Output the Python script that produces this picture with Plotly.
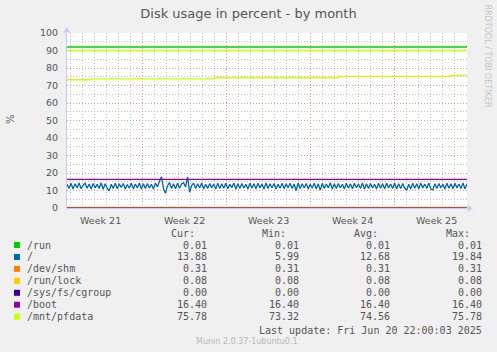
import plotly.graph_objects as go
import pandas as pd

# ---------------- data ----------------
series_names = ["/run", "/", "/dev/shm", "/run/lock", "/sys/fs/cgroup", "/boot", "/mnt/pfdata"]
series_colors = ["#00CC00", "#0066B3", "#FF8000", "#FFCC00", "#330099", "#990099", "#CCFF00"]
cur_vals = [0.01, 13.88, 0.31, 0.08, 0.00, 16.40, 75.78]
min_vals = [0.01, 5.99, 0.31, 0.08, 0.00, 16.40, 73.32]
avg_vals = [0.01, 12.68, 0.31, 0.08, 0.00, 16.40, 74.56]
max_vals = [0.01, 19.84, 0.31, 0.08, 0.00, 16.40, 75.78]

# "/" usage over the month (one sample every ~4h)
root_vals = [
    13.6, 11.2, 14.1, 10.9, 13.8, 11.6, 14.3, 11.0, 12.9, 14.2, 11.3, 13.7, 10.8, 14.0, 11.5, 13.5, 11.1, 14.4, 10.7, 13.9,
    11.4, 9.8, 13.6, 11.2, 14.2, 11.0, 13.8, 11.7, 14.0, 10.9, 13.4, 11.3, 14.1, 11.0, 13.7, 11.5, 14.3, 10.8, 13.9, 11.2,
    14.0, 11.4, 13.6, 10.9, 14.2, 12.1, 15.3, 17.9, 11.0, 8.4, 12.6, 14.6, 11.2, 13.8, 11.0, 14.1, 11.3, 13.7, 14.5, 12.0,
    17.8, 9.0, 12.8, 14.2, 11.1, 13.9, 11.4, 14.3, 10.9, 13.6, 11.2, 14.0, 11.5, 13.7, 10.8, 14.2, 11.1, 13.8, 11.3, 14.1,
    11.0, 13.5, 11.6, 14.3, 10.7, 13.9, 11.2, 14.0, 11.4, 13.6, 10.9, 14.2, 11.3, 13.8, 11.0, 14.1, 11.5, 13.7, 10.8, 14.3,
    11.1, 13.9, 11.4, 14.0, 10.9, 13.6, 11.3, 14.2, 11.0, 13.8, 11.6, 14.1, 11.2, 13.7, 10.0, 14.3, 11.1, 13.9, 11.4, 14.0,
    10.9, 13.6, 11.3, 14.2, 11.0, 13.8, 10.2, 14.1, 11.2, 13.7, 11.5, 14.4, 10.8, 13.9, 11.1, 14.0, 11.4, 13.6, 10.9, 14.2,
    11.3, 13.8, 11.0, 14.1, 11.6, 13.7, 11.2, 14.3, 10.8, 13.9, 11.1, 14.0, 11.4, 13.6, 10.9, 14.2, 11.3, 13.8, 11.0, 14.1,
    11.5, 13.7, 11.2, 14.3, 10.8, 13.9, 11.1, 14.0, 11.4, 10.1, 13.6, 10.9, 14.2, 11.3, 13.8, 11.0, 14.1, 11.5, 13.7, 11.2,
    14.3, 10.8, 10.3, 13.9, 11.1, 14.0, 11.4, 13.6, 10.9, 14.2, 11.3, 13.8, 11.0, 14.1, 11.5, 13.7, 11.2, 14.3, 10.9, 13.9,
]

# /mnt/pfdata step changes
pf_times = ["2025-05-19 16:48", "2025-05-21 17:00", "2025-05-31 23:00", "2025-06-11 07:00", "2025-06-20 19:00"]
pf_values = [73.32, 73.8, 74.4, 75.2, 75.78]

# warning levels drawn as lines
warn_levels = [92, 90]
warn_colors = ["#00CC00", "#CCFF00"]

title_text = "Disk usage in percent - by month"
last_update = "Last update: Fri Jun 20 22:00:03 2025"
munin_version = "Munin 2.0.37-1ubuntu0.1"
rrd_credit = "RRDTOOL / TOBI OETIKER"

# ---------------- layout constants ----------------
W_FIG, H_FIG = 497, 352
L, T, PW, PH = 67, 33, 400, 175
start = pd.Timestamp("2025-05-19 16:48")
end = start + pd.Timedelta(hours=800)


def px(x):
    return (x - L) / PW


def py(y):
    return (T + PH - y) / PH


fig = go.Figure()

root_x = pd.date_range(start, end, periods=len(root_vals))
pf_x = [pd.Timestamp(t) for t in pf_times] + [end]
pf_y = pf_values + [pf_values[-1]]

for i, name in enumerate(series_names):
    if name == "/":
        x, y, shape, w = root_x, root_vals, "linear", 1.3
    elif name == "/mnt/pfdata":
        x, y, shape, w = pf_x, pf_y, "hv", 1.4
    else:
        x, y, shape, w = [start, end], [cur_vals[i], cur_vals[i]], "linear", 1.2
    fig.add_trace(go.Scatter(x=x, y=y, mode="lines", name=name, showlegend=False,
                             line=dict(color=series_colors[i], width=w, shape=shape)))

for lvl, col in zip(warn_levels, warn_colors):
    fig.add_trace(go.Scatter(x=[start, end], y=[lvl, lvl], mode="lines", showlegend=False,
                             line=dict(color=col, width=1.3)))

grid_red = "#EC9090"
grid_gray = "#C4C4C4"
axis_col = "#C8C8F4"
txt_col = "#555555"

fig.update_layout(
    width=W_FIG, height=H_FIG,
    margin=dict(l=L, r=W_FIG - L - PW, t=T, b=H_FIG - T - PH, pad=0),
    paper_bgcolor="#F0F0F0", plot_bgcolor="#FFFFFF",
    font=dict(family="DejaVu Sans", size=9.5, color=txt_col),
    title=dict(text=title_text, x=0.5, xref="container", xanchor="center",
               y=1 - 13.5 / H_FIG, yref="container", yanchor="middle",
               font=dict(family="DejaVu Sans", size=13, color=txt_col)),
    showlegend=False,
)

fig.update_xaxes(
    type="date", range=[start, end],
    tick0="2025-05-26", dtick=7 * 86400000,
    tickformat="Week %V", ticklabelmode="period",
    ticks="", ticklabelstandoff=4,
    showgrid=True, gridcolor=grid_red, griddash="1px,2px", gridwidth=1,
    minor=dict(dtick=86400000, tick0="2025-05-26", showgrid=True,
               gridcolor=grid_gray, griddash="1px,2px", gridwidth=1),
    showline=True, linecolor=axis_col, linewidth=1,
    zeroline=False, tickfont=dict(size=9.5, color=txt_col),
)
fig.update_yaxes(
    range=[0, 100], dtick=10, tick0=0,
    ticks="", ticklabelstandoff=6,
    showgrid=True, gridcolor=grid_red, griddash="1px,2px", gridwidth=1,
    minor=dict(dtick=5, showgrid=True, gridcolor=grid_gray, griddash="1px,2px", gridwidth=1),
    showline=True, linecolor=axis_col, linewidth=1,
    zeroline=False, tickfont=dict(size=9.5, color=txt_col),
)

ann = []
# y-axis label
ann.append(dict(text="%", x=px(10), y=py(119), xref="paper", yref="paper", showarrow=False,
                textangle=-90, font=dict(size=10, color=txt_col), xanchor="center", yanchor="middle"))
# credit
ann.append(dict(text=rrd_credit, x=px(487.5), y=py(56), xref="paper", yref="paper", showarrow=False,
                textangle=90, font=dict(size=8, color="#C4C4C4"), xanchor="center", yanchor="middle"))

mono = dict(family="DejaVu Sans Mono", size=10, color=txt_col)
hdr_y = 233.3
headers = ["Cur:", "Min:", "Avg:", "Max:"]
hdr_right = [195.5, 287, 378.5, 470.5]
val_right = [208, 300, 390.5, 482.5]
for h, xr in zip(headers, hdr_right):
    ann.append(dict(text=h, x=px(xr), y=py(hdr_y), xref="paper", yref="paper", showarrow=False,
                    xanchor="right", yanchor="middle", font=mono, borderpad=0))

row0, dy = 245.0, 11.95
cols = [cur_vals, min_vals, avg_vals, max_vals]
shapes = []
for i, name in enumerate(series_names):
    yy = row0 + i * dy
    ann.append(dict(text=name, x=px(25.5), y=py(yy), xref="paper", yref="paper", showarrow=False,
                    xanchor="left", yanchor="middle", font=mono, borderpad=0))
    for c, xr in zip(cols, val_right):
        ann.append(dict(text=f"{c[i]:.2f}", x=px(xr), y=py(yy), xref="paper", yref="paper",
                        showarrow=False, xanchor="right", yanchor="middle", font=mono, borderpad=0))
    shapes.append(dict(type="rect", xref="paper", yref="paper",
                       x0=px(14), x1=px(20), y0=py(yy + 3), y1=py(yy - 3),
                       fillcolor=series_colors[i], line=dict(width=0)))

ann.append(dict(text=last_update, x=px(482.5), y=py(330), xref="paper", yref="paper", showarrow=False,
                xanchor="right", yanchor="middle", font=mono, borderpad=0))
ann.append(dict(text=munin_version, x=px(247), y=py(341), xref="paper", yref="paper", showarrow=False,
                xanchor="center", yanchor="middle", font=dict(family="DejaVu Sans", size=8, color="#B8B8B8"),
                borderpad=0))

# axis arrows
shapes.append(dict(type="path", xref="paper", yref="paper",
                   path=f"M {px(63.5)} {py(32.5)} L {px(70)} {py(32.5)} L {px(66.7)} {py(27)} Z",
                   fillcolor=axis_col, line=dict(width=0)))
shapes.append(dict(type="path", xref="paper", yref="paper",
                   path=f"M {px(467.5)} {py(205)} L {px(467.5)} {py(211.5)} L {px(473)} {py(208.2)} Z",
                   fillcolor=axis_col, line=dict(width=0)))

fig.update_layout(annotations=ann, shapes=shapes)
fig.write_html("out.html")
